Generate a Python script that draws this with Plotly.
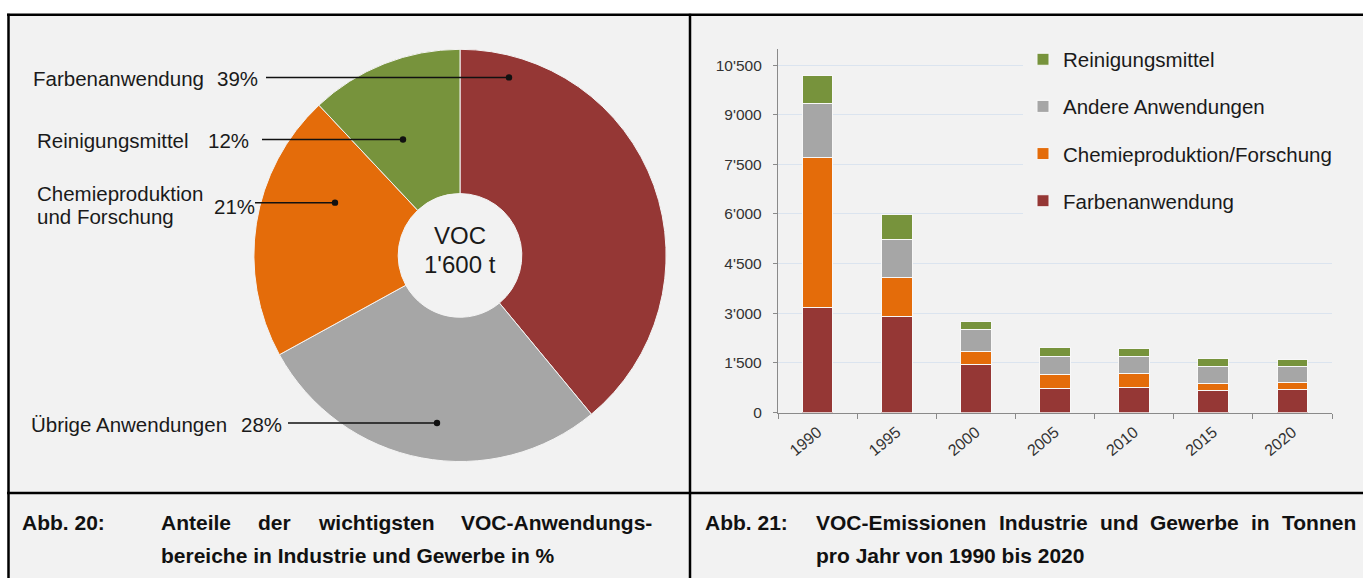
import plotly.graph_objects as go

W, H = 1363, 578
FONT = "Liberation Sans, Arial, sans-serif"

# ---- data ----
pie_labels = ["Farbenanwendung", "Übrige Anwendungen", "Chemieproduktion und Forschung", "Reinigungsmittel"]
pie_values = [39, 28, 21, 12]
pie_colors = ["#953735", "#A6A6A6", "#E46C0A", "#77933C"]

years = ["1990", "1995", "2000", "2005", "2010", "2015", "2020"]
farben = [3180, 2900, 1460, 715, 755, 675, 685]
chemie = [4540, 1170, 375, 420, 415, 210, 225]
andere = [1620, 1160, 685, 565, 530, 520, 490]
rein = [830, 760, 220, 270, 245, 225, 210]
series_names = ["Farbenanwendung", "Chemieproduktion/Forschung", "Andere Anwendungen", "Reinigungsmittel"]
series_colors = ["#953735", "#E46C0A", "#A6A6A6", "#77933C"]
legend_ranks = [4, 3, 2, 1]

ytick_vals = [0, 1500, 3000, 4500, 6000, 7500, 9000, 10500]
ytick_text = ["0", "1'500", "3'000", "4'500", "6'000", "7'500", "9'000", "10'500"]


def X(px):
    return px / W


def Y(py):
    return 1 - py / H


fig = go.Figure()

fig.add_trace(go.Pie(
    labels=pie_labels, values=pie_values, sort=False, direction="clockwise",
    rotation=0, hole=0.30, textinfo="none", hoverinfo="label+percent",
    marker=dict(colors=pie_colors, line=dict(color="#f4f4f4", width=1)),
    domain=dict(x=[X(251), X(669)], y=[Y(468), Y(50)]),
    showlegend=False,
))

for name, vals, col, rk in zip(series_names, [farben, chemie, andere, rein], series_colors, legend_ranks):
    fig.add_trace(go.Bar(
        x=years, y=vals, name=name, legendgroup=name, legendrank=rk,
        marker=dict(color=col, line=dict(color="#f8f8f8", width=1)),
    ))

shapes = []
shapes.append(dict(type="rect", xref="paper", yref="paper", x0=X(8), x1=X(1370), y0=Y(600), y1=Y(15),
                   fillcolor="#f2f2f2", line=dict(width=0), layer="below"))
frame = dict(color="#000000", width=2.5)
shapes += [
    dict(type="line", xref="paper", yref="paper", x0=X(7), x1=X(1370), y0=Y(15), y1=Y(15), line=frame),
    dict(type="line", xref="paper", yref="paper", x0=X(8.5), x1=X(8.5), y0=Y(14), y1=Y(600), line=frame),
    dict(type="line", xref="paper", yref="paper", x0=X(690), x1=X(690), y0=Y(14), y1=Y(600), line=frame),
    dict(type="line", xref="paper", yref="paper", x0=X(7), x1=X(1370), y0=Y(500), y1=Y(500), line=frame),
]

leaders = [(266, 509, 78.5), (262, 403, 141.5), (255, 335, 205.5), (288, 437, 429)]
for x0, x1, yy in leaders:
    shapes.append(dict(type="line", xref="paper", yref="paper", x0=X(x0), x1=X(x1), y0=Y(yy), y1=Y(yy),
                       line=dict(color="#111111", width=1.5), layer="above"))
    shapes.append(dict(type="circle", xref="paper", yref="paper", xsizemode="pixel", ysizemode="pixel",
                       xanchor=X(x1), yanchor=Y(yy), x0=-3.2, x1=3.2, y0=-3.2, y1=3.2,
                       fillcolor="#111111", line=dict(width=0), layer="above"))

ann = []
lab_font = dict(family=FONT, size=20.5, color="#1a1a1a")


def txt(px, py, s, font, xanchor="left"):
    ann.append(dict(x=X(px), y=Y(py), xref="paper", yref="paper", text=s, showarrow=False,
                    xanchor=xanchor, yanchor="middle", font=font, align="left"))


txt(31, 80, "Farbenanwendung", lab_font)
txt(215, 80, "39%", lab_font)
txt(35, 142, "Reinigungsmittel", lab_font)
txt(205.5, 142, "12%", lab_font)
txt(35, 196, "Chemieproduktion", lab_font)
txt(35, 219.5, "und Forschung", lab_font)
txt(211.5, 209, "21%", lab_font)
txt(29, 430, "Übrige Anwendungen", lab_font)
txt(239, 430, "28%", lab_font)

ctr_font = dict(family=FONT, size=24, color="#1a1a1a")
txt(460, 239, "VOC", ctr_font, xanchor="center")
txt(460, 268, "1'600 t", ctr_font, xanchor="center")

cap_font = dict(family=FONT, size=21, color="#111111")
bold = lambda s: "<b>" + s + "</b>"
txt(20, 530, bold("Abb. 20:"), cap_font)
for px, w in [(159, "Anteile"), (256, "der"), (316, "wichtigsten"), (459, "VOC-Anwendungs-")]:
    txt(px, 530, bold(w), cap_font)
txt(159, 563, bold("bereiche in Industrie und Gewerbe in %"), cap_font)
txt(703, 530, bold("Abb. 21:"), cap_font)
for px, w in [(814, "VOC-Emissionen"), (996.5, "Industrie"), (1097.5, "und"), (1148, "Gewerbe"),
              (1249, "in"), (1280, "Tonnen")]:
    txt(px, 530, bold(w), cap_font)
txt(814, 563, bold("pro Jahr von 1990 bis 2020"), cap_font)

axis_col = "#8a8a8a"
fig.update_layout(
    width=W, height=H, autosize=False,
    margin=dict(l=0, r=0, t=0, b=0),
    paper_bgcolor="#ffffff", plot_bgcolor="rgba(0,0,0,0)",
    font=dict(family=FONT, color="#333333"),
    barmode="stack", bargap=0.613,
    shapes=shapes, annotations=ann,
    xaxis=dict(domain=[X(778), X(1332)], type="category", showline=True, linecolor=axis_col, linewidth=1.3,
               ticks="outside", ticklen=5, tickcolor=axis_col, tickson="boundaries", tickangle=-40,
               tickfont=dict(family=FONT, size=16, color="#333333"), showgrid=False,
               ticklabelstandoff=3),
    yaxis=dict(domain=[Y(418.3), Y(49.2)], range=[0, 11000], tickvals=ytick_vals, ticktext=ytick_text,
               showline=True, linecolor=axis_col, linewidth=1.3, ticks="outside", ticklen=4,
               tickcolor=axis_col, showgrid=True, gridcolor="#dbe4ef", gridwidth=1, zeroline=False,
               tickfont=dict(family=FONT, size=15.5, color="#333333"), ticklabelstandoff=8),
    legend=dict(x=X(1023), y=Y(40), xanchor="left", yanchor="top", bgcolor="#f2f2f2",
                traceorder="grouped", tracegroupgap=17.5,
                font=dict(family=FONT, size=20.5, color="#1a1a1a")),
)

fig.write_html(
    "out.html",
    config={"displayModeBar": False},
    post_script="document.body.style.margin='0px';document.body.style.overflow='hidden';",
)
